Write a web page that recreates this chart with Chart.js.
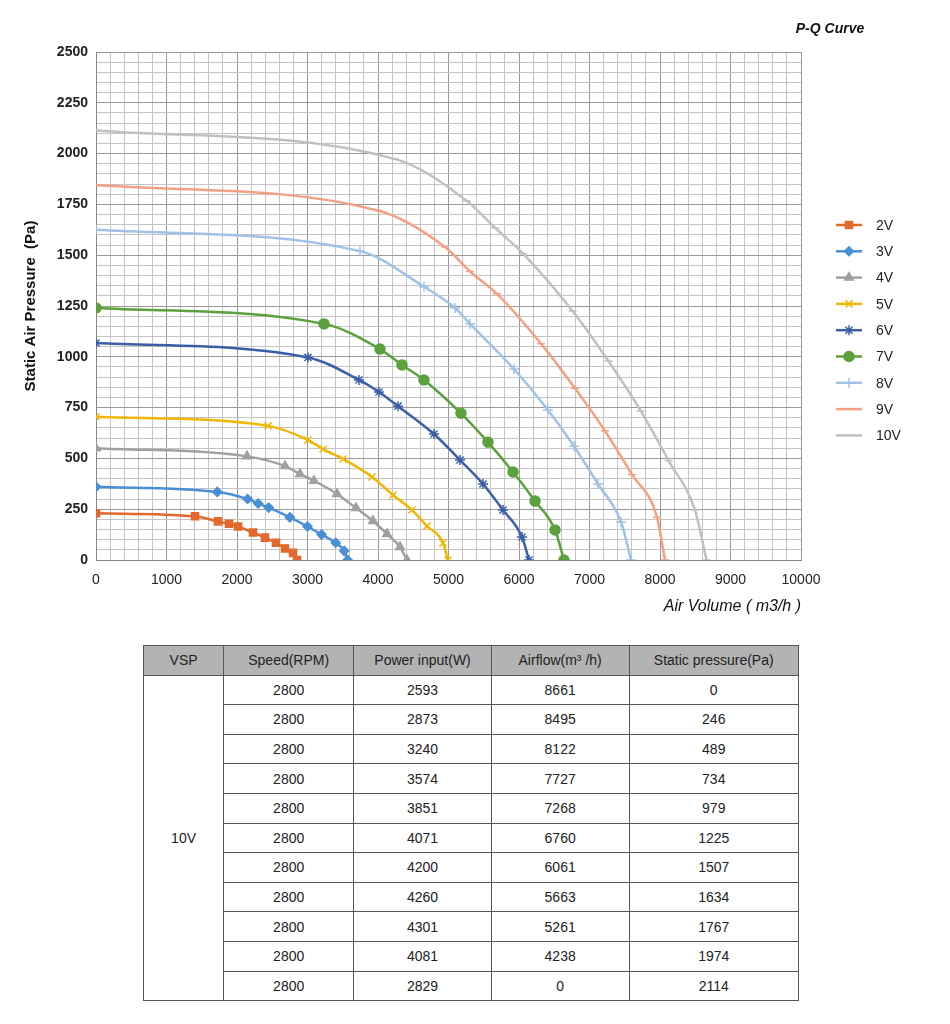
<!DOCTYPE html>
<html><head><meta charset="utf-8">
<script src="https://cdn.jsdelivr.net/npm/chart.js@4"></script>
<style>
body{margin:0;background:#fff;font-family:"Liberation Sans",Arial,sans-serif;}
#wrap{position:absolute;left:0;top:0;width:950px;height:620px;}
table{position:absolute;left:143px;top:645px;width:656px;border-collapse:collapse;font-size:14px;color:#222;}
td,th{border:1px solid #555;text-align:center;height:28.6px;padding:0;font-weight:normal;}
th{background:#b3b3b3;}
</style></head><body>
<div id="wrap"><canvas id="c"></canvas></div>
<table id="t"></table>
<script>
const seriesNames=['2V','3V','4V','5V','6V','7V','8V','9V','10V'];
const x2V=[0,1404,1730,1887,2014,2227,2397,2553,2681,2794,2851];
const y2V=[230,215,190,178,165,135,110,85,57,35,0];
const x3V=[0,1720,2150,2300,2450,2750,3000,3200,3400,3520,3570];
const y3V=[360,335,300,278,258,210,165,125,85,45,0];
const x4V=[0,2142,2681,2894,3092,3418,3688,3929,4128,4312,4411];
const y4V=[550,510,462,423,390,325,256,192,128,64,0];
const x5V=[0,2440,3007,3220,3504,3915,4213,4482,4695,4922,4993];
const y5V=[705,660,590,546,497,409,320,246,167,84,0];
const x6V=[0,3007,3730,4014,4284,4794,5163,5489,5773,6043,6142];
const y6V=[1068,997,886,827,757,620,492,374,246,113,0];
const x7V=[0,3234,4028,4340,4652,5177,5560,5915,6227,6511,6638];
const y7V=[1240,1162,1038,960,886,722,580,433,290,148,0];
const x8V=[0,3745,4652,5092,5305,5929,6411,6780,7120,7447,7589];
const y8V=[1625,1520,1345,1240,1162,940,738,560,374,187,0];
const x9V=[0,4000,4950,5305,5688,6312,6794,7220,7603,7957,8071];
const y9V=[1845,1720,1540,1420,1310,1065,845,635,420,210,0];
const x10V=[0,4238,5261,5663,6061,6760,7268,7727,8122,8495,8661];
const y10V=[2114,1974,1767,1634,1507,1225,979,734,489,246,0];
const xTickLabels=['0','1000','2000','3000','4000','5000','6000','7000','8000','9000','10000'];
const yTickLabels=['0','250','500','750','1000','1250','1500','1750','2000','2250','2500'];
const tableHeaders=['VSP','Speed(RPM)','Power input(W)','Airflow(m³ /h)','Static pressure(Pa)'];
const tableVsp='10V';
const tableSpeed=[2800,2800,2800,2800,2800,2800,2800,2800,2800,2800,2800];
const tablePower=[2593,2873,3240,3574,3851,4071,4200,4260,4301,4081,2829];
const tableAirflow=[8661,8495,8122,7727,7268,6760,6061,5663,5261,4238,0];
const tablePressure=[0,246,489,734,979,1225,1507,1634,1767,1974,2114];

const xs=[x2V,x3V,x4V,x5V,x6V,x7V,x8V,x9V,x10V];
const ys=[y2V,y3V,y4V,y5V,y6V,y7V,y8V,y9V,y10V];
const colors=['#e2692c','#4a8fd3','#a0a0a0','#f2b600','#3b5ea8','#5ba13d','#9fc2e6','#f4a183','#c0c0c0'];
const styles=['rect','rectRot','triangle','crossRot','star','circle','cross','line','line'];
const radii=[5,4.5,5,5,5,5,5,4,4];

const datasets=seriesNames.map((n,i)=>({label:n,data:xs[i].map((x,j)=>({x:x,y:ys[i][j]})),
 borderColor:colors[i],backgroundColor:colors[i],pointStyle:styles[i],pointRadius:radii[i],
 pointBorderWidth:1.5,borderWidth:2.5,tension:0.4,cubicInterpolationMode:'monotone'}));

const legendPlugin={id:'lg',afterDraw(ch){
 const c=ch.ctx;c.save();
 ch.data.datasets.forEach((d,i)=>{
  const y=225+i*26.3,x0=836,x1=862;
  c.strokeStyle=d.borderColor;c.lineWidth=2.5;c.beginPath();c.moveTo(x0,y);c.lineTo(x1,y);c.stroke();
  c.fillStyle=d.backgroundColor;c.lineWidth=1.5;
  Chart.helpers.drawPoint(c,{pointStyle:d.pointStyle,radius:d.pointRadius,rotation:0,borderWidth:1.5},(x0+x1)/2,y);
  c.fillStyle='#222';c.font='14px "Liberation Sans",Arial';c.textBaseline='middle';c.fillText(d.label,x1+14,y+1);
 });
 c.font='bold italic 14px "Liberation Sans",Arial';c.textAlign='center';c.textBaseline='middle';c.fillStyle='#111';
 c.fillText('P-Q Curve',830,29);
 c.restore();}};

new Chart(document.getElementById('c'),{type:'line',data:{datasets},
 options:{responsive:true,maintainAspectRatio:false,animation:false,
 layout:{padding:{top:52,right:149,left:18,bottom:0}},
 plugins:{legend:{display:false},tooltip:{enabled:false}},
 scales:{
  x:{type:'linear',min:0,max:10000,
   afterFit(s){s.height=60;},
   ticks:{stepSize:200,autoSkip:false,maxRotation:0,color:'#222',padding:12,font:{size:14,family:'"Liberation Sans",Arial'},
    callback:(v)=>v%1000===0?xTickLabels[v/1000]:''},
   grid:{color:(c)=>c.tick&&c.tick.value%1000===0?'#999':'#c4c4c4',tickLength:0,lineWidth:1},border:{color:'#888'},
   title:{display:true,text:'Air Volume ( m3/h )',align:'end',color:'#111',padding:{top:0},font:{size:16,style:'italic',family:'"Liberation Sans",Arial'}}},
  y:{min:0,max:2500,
   afterFit(s){s.width=78;},
   ticks:{stepSize:50,autoSkip:false,color:'#222',padding:8,font:{size:14,weight:'bold',family:'"Liberation Sans",Arial'},
    callback:(v)=>v%250===0?yTickLabels[v/250]:''},
   grid:{color:(c)=>c.tick&&c.tick.value%250===0?'#999':'#c4c4c4',tickLength:0,lineWidth:1},border:{color:'#888'},
   title:{display:true,text:'Static Air Pressure  (Pa)',color:'#111',padding:{bottom:0},font:{size:15,weight:'bold',family:'"Liberation Sans",Arial'}}}
 }},plugins:[legendPlugin]});

const t=document.getElementById('t');
let h='<tr>'+tableHeaders.map(x=>'<th>'+x+'</th>').join('')+'</tr>';
tableSpeed.forEach((s,i)=>{
 h+='<tr>'+(i===0?'<td rowspan="'+tableSpeed.length+'">'+tableVsp+'</td>':'')+
 '<td>'+s+'</td><td>'+tablePower[i]+'</td><td>'+tableAirflow[i]+'</td><td>'+tablePressure[i]+'</td></tr>';
});
t.innerHTML=h;
const cw=[80,130,138,138,170];
t.querySelectorAll('th').forEach((th,i)=>th.style.width=cw[i]+'px');
</script></body></html>
